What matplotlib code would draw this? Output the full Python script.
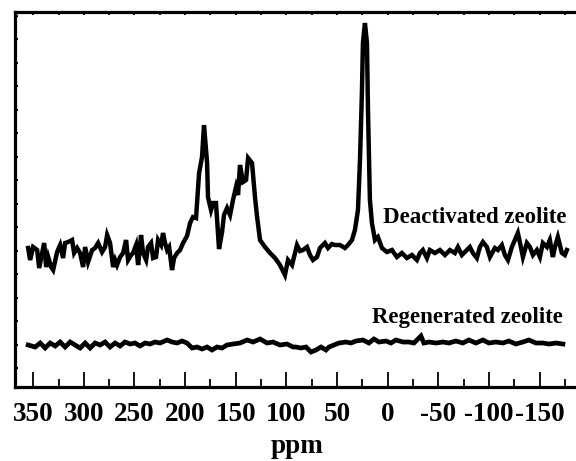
import numpy as np
import matplotlib.pyplot as plt
from matplotlib.ticker import MultipleLocator, FixedLocator

plt.rcParams['font.family'] = ['Liberation Serif', 'DejaVu Serif']
plt.rcParams['font.weight'] = 'bold'
plt.rcParams['axes.unicode_minus'] = False

# 13C NMR spectra, chemical shift (ppm) vs intensity (a.u.)
deact_ppm = [355.0, 353.0, 350.1, 346.1, 344.1, 341.2, 339.2, 337.2, 335.2, 332.3,
             330.3, 326.4, 323.4, 320.5, 318.5, 315.5, 311.6, 309.6, 306.6, 303.7,
             300.7, 298.7, 295.8, 291.8, 288.9, 285.9, 282.0, 279.0, 277.0, 274.1,
             271.1, 269.1, 267.2, 264.2, 261.2, 258.3, 256.3, 253.3, 251.4, 248.4,
             246.4, 243.5, 241.5, 238.5, 236.6, 233.6, 231.6, 228.7, 226.7, 223.7,
             221.8, 219.8, 217.8, 215.8, 212.9, 210.9, 207.9, 205.0, 202.0, 198.1,
             195.1, 192.2, 189.2, 186.2, 183.3, 181.3, 178.3, 177.4, 174.4, 172.4,
             169.5, 166.5, 163.5, 161.6, 158.6, 155.6, 152.7, 149.7, 147.7, 145.8,
             142.8, 139.8, 137.8, 133.9, 130.9, 128.9, 126.0, 121.1, 116.1, 111.2,
             106.3, 101.4, 98.4, 94.4, 89.5, 86.5, 83.6, 79.6, 76.7, 73.7,
             69.8, 66.8, 61.9, 58.9, 55.0, 52.0, 47.1, 42.2, 39.2, 35.2,
             32.3, 29.3, 27.3, 25.4, 24.4, 22.4, 20.4, 19.4, 17.5, 15.5,
             12.5, 9.6, 5.6, 0.7, -4.2, -9.2, -14.1, -19.0, -24.0, -28.9,
             -31.9, -34.8, -38.8, -41.7, -46.7, -51.6, -56.6, -61.5, -66.4, -69.4,
             -73.3, -78.3, -81.2, -84.2, -88.1, -91.1, -94.1, -98.0, -101.0, -105.9,
             -108.9, -112.8, -115.8, -118.8, -122.7, -125.7, -128.6, -131.6, -133.6, -137.5,
             -140.5, -143.5, -147.4, -150.4, -153.3, -157.3, -160.2, -163.2, -165.2, -168.1,
             -172.1, -175.0, -177.0]
deact_int = [120, 108, 121, 118, 100, 115, 125, 101, 111, 101,
             98, 116, 123, 110, 125, 126, 128, 115, 120, 115,
             101, 121, 106, 118, 120, 125, 116, 121, 133, 125,
             101, 108, 103, 111, 115, 128, 108, 113, 115, 123,
             103, 133, 115, 108, 121, 125, 110, 111, 128, 123,
             135, 125, 118, 121, 98, 110, 115, 118, 125, 132,
             145, 151, 150, 195, 211, 243, 205, 171, 158, 165,
             165, 119, 136, 153, 160, 153, 168, 181, 173, 203,
             186, 188, 210, 205, 170, 151, 128, 121, 115, 110,
             103, 93, 108, 103, 123, 117, 118, 121, 113, 108,
             111, 120, 125, 120, 124, 123, 123, 120, 123, 128,
             138, 158, 208, 275, 325, 345, 325, 258, 168, 145,
             128, 131, 120, 116, 118, 111, 115, 110, 113, 108,
             115, 118, 110, 118, 115, 118, 113, 118, 115, 121,
             113, 118, 121, 115, 110, 121, 126, 121, 111, 120,
             118, 123, 113, 108, 121, 128, 135, 121, 111, 125,
             121, 113, 118, 111, 125, 121, 128, 111, 121, 131,
             115, 113, 118]

regen_ppm = [355.0, 348.1, 343.1, 338.2, 333.3, 328.3, 323.4, 318.5, 313.5, 308.6,
             303.7, 298.7, 293.8, 288.9, 283.9, 279.0, 274.1, 269.1, 264.2, 259.3,
             254.3, 249.4, 244.5, 239.5, 234.6, 229.7, 224.7, 217.8, 212.9, 207.9,
             203.0, 198.1, 193.1, 188.2, 183.3, 178.3, 173.4, 168.5, 163.5, 158.6,
             152.7, 145.8, 138.8, 132.9, 126.0, 119.1, 113.2, 106.3, 99.4, 93.4,
             90.5, 85.6, 80.6, 75.7, 70.7, 65.8, 60.9, 57.9, 53.0, 48.1,
             41.2, 36.2, 31.3, 24.4, 18.5, 13.5, 8.6, 1.7, -3.3, -8.2,
             -15.1, -21.0, -26.0, -32.9, -35.8, -40.8, -47.7, -54.6, -60.5, -67.4,
             -74.3, -80.2, -87.1, -94.1, -100.0, -106.9, -113.8, -119.7, -126.6, -133.6,
             -139.5, -146.4, -153.3, -159.3, -166.2, -173.1]
regen_int = [23, 21, 25, 20, 25, 22, 26, 21, 26, 23,
             20, 25, 20, 25, 23, 26, 21, 25, 22, 26,
             24, 25, 22, 25, 24, 26, 25, 28, 26, 25,
             27, 25, 20, 21, 19, 21, 18, 21, 20, 23,
             24, 25, 28, 26, 29, 25, 26, 23, 24, 21,
             21, 20, 21, 16, 18, 21, 18, 21, 23, 25,
             26, 25, 27, 28, 25, 29, 26, 27, 25, 28,
             26, 26, 25, 32, 25, 26, 25, 26, 25, 27,
             25, 28, 25, 28, 25, 26, 25, 27, 24, 26,
             28, 25, 25, 24, 25, 24]

fig = plt.figure(figsize=(5.76, 4.61), dpi=100)
ax = fig.add_axes([0.026, 0.1605, 0.981, 0.8134])

ax.plot(deact_ppm, deact_int, color='black', lw=3.2, solid_joinstyle='miter')
ax.plot(regen_ppm, regen_int, color='black', lw=3.4, solid_joinstyle='miter')

ax.text(-177, 145, 'Deactivated zeolite', ha='right', va='baseline',
        fontsize=16.5, fontweight='bold')
ax.text(-173, 45, 'Regenerated zeolite', ha='right', va='baseline',
        fontsize=16.5, fontweight='bold')

ax.set_xlim(368, -190)
ax.set_ylim(-19, 356)

ax.xaxis.set_major_locator(FixedLocator([350, 300, 250, 200, 150, 100, 50, 0, -50, -100, -150]))
ax.xaxis.set_minor_locator(MultipleLocator(25))
ax.yaxis.set_major_locator(FixedLocator(np.arange(0, 356, 23.5)))
ax.set_yticklabels([])

ax.tick_params(axis='x', which='major', direction='in', length=11, width=1.3,
               top=True, pad=10.5, labelsize=19.5)
ax.tick_params(axis='x', which='minor', direction='in', length=6, width=1.3, top=True)
ax.tick_params(axis='y', which='major', direction='in', length=2.5, width=1.5)
for t in ax.xaxis.get_major_ticks() + ax.xaxis.get_minor_ticks():
    t.tick2line.set_markersize(2)

ax.set_xlabel('ppm', fontsize=19.5, fontweight='bold', labelpad=5)

for side in ['left', 'bottom', 'top']:
    ax.spines[side].set_linewidth(2.3)
ax.spines['right'].set_visible(False)

fig.savefig('out.png', dpi=100)
